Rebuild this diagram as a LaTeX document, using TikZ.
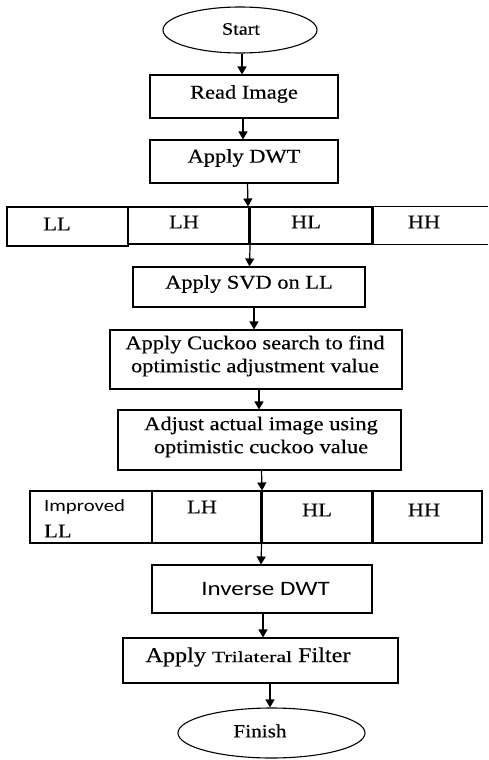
\documentclass[tikz,border=0pt]{standalone}
\usepackage{fontspec}
\setmainfont[FakeStretch=1.15,FakeBold=0.4]{Liberation Serif}
\newfontfamily\carl[FakeStretch=1.22]{Carlito}
\usetikzlibrary{arrows.meta,shapes.geometric}
\begin{document}
\begin{tikzpicture}[x=1pt,y=-1pt,
  box/.style={draw,line width=1.1pt,rectangle,inner sep=0pt,align=center},
  oval/.style={draw,line width=1.1pt,ellipse,inner sep=0pt},
  cell/.style={draw,line width=1.1pt,rectangle,inner sep=0pt},
  txt/.style={inner sep=0pt,font=\fontsize{19.5}{23}\selectfont,align=center},
  arr/.style={line width=1.2pt,-{Triangle[length=8pt,width=9pt]}},
  thick sep/.style={line width=3pt}]
\useasboundingbox (0,0) rectangle (488,760);
% Start
\node[oval,minimum width=154pt,minimum height=46pt] (start) at (240,30) {};
\node[txt,font=\fontsize{17.5}{20}\selectfont] (starttxt) at (241,29) {Start};
% Read image
\node[box,minimum width=188pt,minimum height=43pt] (read) at (244,96.5) {};
\node[txt] (readtxt) at (244,94) {Read Image};
% Apply DWT
\node[box,minimum width=188pt,minimum height=43pt] (dwt) at (244,161.5) {};
\node[txt] (dwttxt) at (244,158) {Apply DWT};
% Row 1
\node[cell,minimum width=121pt,minimum height=39pt] (ll1) at (67.5,226.5) {};
\node[cell,minimum width=121pt,minimum height=37pt] (lh1) at (188.5,225.5) {};
\node[cell,minimum width=123pt,minimum height=37pt] (hl1) at (310.5,225.5) {};
\node[minimum width=116pt,minimum height=37pt,inner sep=0pt] (hh1) at (430,225.5) {};
\draw[line width=1.1pt] (hh1.north west) -- (hh1.north east);
\draw[line width=1.1pt] (hh1.south west) -- (hh1.south east);
\draw[thick sep] (lh1.north east) -- (lh1.south east);
\draw[thick sep] (hl1.north east) -- (hl1.south east);
\node[txt] (ll1t) at (57,224) {LL};
\node[txt] (lh1t) at (184,222) {LH};
\node[txt] (hl1t) at (306,222) {HL};
\node[txt] (hh1t) at (424,222) {HH};
% SVD
\node[box,minimum width=232pt,minimum height=40pt] (svd) at (249,287) {};
\node[txt] (svdtxt) at (249,284) {Apply SVD on LL};
% Cuckoo
\node[box,minimum width=292pt,minimum height=59pt] (cuckoo) at (256,359.5) {};
\node[txt] (cuckootxt) at (255,356) {Apply Cuckoo search to find\\optimistic adjustment value};
% Adjust
\node[box,minimum width=283pt,minimum height=60pt] (adjust) at (259.5,440) {};
\node[txt] (adjusttxt) at (261,437) {Adjust actual image using\\optimistic cuckoo value};
% Row 2
\node[cell,minimum width=122pt,minimum height=52pt] (ll2) at (91,517) {};
\node[cell,minimum width=109pt,minimum height=52pt] (lh2) at (206.5,517) {};
\node[cell,minimum width=111pt,minimum height=52pt] (hl2) at (316.5,517) {};
\node[cell,minimum width=110pt,minimum height=52pt] (hh2) at (427,517) {};
\draw[thick sep] (lh2.north east) -- (lh2.south east);
\draw[thick sep] (hl2.north east) -- (hl2.south east);
\node[inner sep=0pt,anchor=west,font=\carl\fontsize{17}{20}\selectfont] (imp) at (44,507) {Improved};
\node[txt,anchor=west] (ll2t) at (44,531) {LL};
\node[txt] (lh2t) at (202,507) {LH};
\node[txt] (hl2t) at (317,510) {HL};
\node[txt] (hh2t) at (424,510) {HH};
% Inverse DWT
\node[box,minimum width=220pt,minimum height=48pt] (inv) at (262,589) {};
\node[inner sep=0pt,font=\carl\fontsize{20.5}{24}\selectfont] (invtxt) at (265.5,589) {Inverse DWT};
% Trilateral
\node[box,minimum width=275pt,minimum height=45pt] (tri) at (260.5,660.5) {};
\node[inner sep=0pt,font=\fontsize{21}{24}\selectfont] (tritxt) at (248,657) {Apply \scalebox{1.22}[1]{\fontsize{15.5}{18}\selectfont Trilateral} Filter};
% Finish
\node[oval,minimum width=187pt,minimum height=50pt] (finish) at (271.5,733) {};
\node[txt,font=\fontsize{18.5}{21}\selectfont] (finishtxt) at (260,731) {Finish};
% Arrows
\draw[arr] ([xshift=2pt]start.south) -- ([xshift=-2pt]read.north);
\draw[arr] ([xshift=-1pt]read.south) -- ([xshift=-1pt]dwt.north);
\draw[arr] ([xshift=3.5pt]dwt.south) -- ([xshift=-1.5pt]lh1.north east);
\draw[arr] ([xshift=0.5pt]lh1.south east) -- ([xshift=0.5pt]svd.north);
\draw[arr] ([xshift=5pt]svd.south) -- ([xshift=-2pt]cuckoo.north);
\draw[arr] ([xshift=3pt]cuckoo.south) -- ([xshift=-0.5pt]adjust.north);
\draw[arr] ([xshift=2pt]adjust.south) -- ([xshift=0.5pt]lh2.north east);
\draw[arr] ([xshift=0pt]lh2.south east) -- ([xshift=-1pt]inv.north);
\draw[arr] ([xshift=1pt]inv.south) -- ([xshift=2.5pt]tri.north);
\draw[arr] ([xshift=9.5pt]tri.south) -- ([xshift=-1.5pt]finish.north);
\end{tikzpicture}
\end{document}
